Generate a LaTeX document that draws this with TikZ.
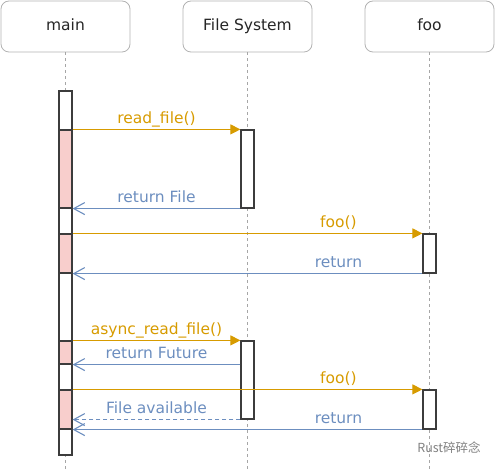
\documentclass[tikz,border=0pt]{standalone}
\usepackage{fontspec}
\setmainfont{DejaVu Sans}
\newfontfamily\cjk{Noto Sans CJK SC}
\usepackage{xcolor}
\usetikzlibrary{arrows.meta}
\definecolor{callc}{HTML}{D79B00}
\definecolor{retc}{HTML}{6C8EBF}
\definecolor{busyc}{HTML}{F8CECC}
\definecolor{edgec}{HTML}{3C3C3C}

\begin{document}
\begin{tikzpicture}[x=1pt,y=-1pt,font=\fontsize{15.5}{18}\selectfont,
  head/.style={draw=black!30,line width=0.8pt,rounded corners=8pt,minimum width=129pt,minimum height=51pt,text=black!85,text height=0.95em,text depth=0.1em},
  bar/.style={draw=edgec,fill=white,line width=1.2pt,minimum width=13pt,inner sep=0pt},
  busy/.style={bar,fill=busyc},
  life/.style={black!35,line width=0.9pt,dash pattern=on 3pt off 3pt},
  call/.style={callc,line width=1.1pt,-{Triangle[length=10pt,width=10pt]}},
  ret/.style={retc,line width=1.1pt,-{Straight Barb[length=11pt,width=12pt]}},
  lbl/.style={anchor=base,yshift=6pt}]
\useasboundingbox (0,0) rectangle (496,470);
\coordinate (floor) at (0,470);
\node[head] (main) at (65.5,26.5) {main};
\node[head] (fs) at (247.5,26.5) {File System};
\node[head] (foo) at (429.5,26.5) {foo};
\foreach \n in {main,fs,foo} { \draw[life] (\n.south) -- (\n.south |- floor); }
\node[bar,minimum height=364pt] (mainbar) at (65.5,273) {};
\node[busy,minimum height=78pt] (m1) at (65.5,169) {};
\node[busy,minimum height=39pt] (m2) at (65.5,253.5) {};
\node[busy,minimum height=23pt] (m3) at (65.5,352.5) {};
\node[busy,minimum height=39pt] (m4) at (65.5,409.5) {};
\node[bar,minimum height=78pt] (fs1) at (247.5,169) {};
\node[bar,minimum height=78pt] (fs2) at (247.5,380) {};
\node[bar,minimum height=39pt] (foo1) at (429.5,253.5) {};
\node[bar,minimum height=39pt] (foo2) at (429.5,409.5) {};
\draw[call] (m1.north east) -- node[lbl]{read\_file()} (fs1.north west);
\draw[ret] (fs1.south west) -- node[lbl]{return File} (m1.south east);
\draw[call] (m2.north east) -- node[lbl,pos=.76]{foo()} (foo1.north west);
\draw[ret] (foo1.south west) -- node[lbl,pos=.24]{return} (m2.south east);
\draw[call] (m3.north east) -- node[lbl]{async\_read\_file()} (fs2.north west);
\draw[ret] (fs2.west |- m3.south) -- node[lbl]{return Future} (m3.south east);
\draw[call] (m4.north east) -- node[lbl,pos=.76]{foo()} (foo2.north west);
\draw[ret,dash pattern=on 4pt off 3pt] (fs2.south west) -- node[lbl]{File available} (m4.east |- fs2.south);
\draw[ret] (foo2.south west) -- node[lbl,pos=.24]{return} (m4.south east);
\node[text=black!50,font=\cjk\fontsize{12.5}{14}\selectfont] (mark) at (449,448) {Rust碎碎念};
\end{tikzpicture}
\end{document}
